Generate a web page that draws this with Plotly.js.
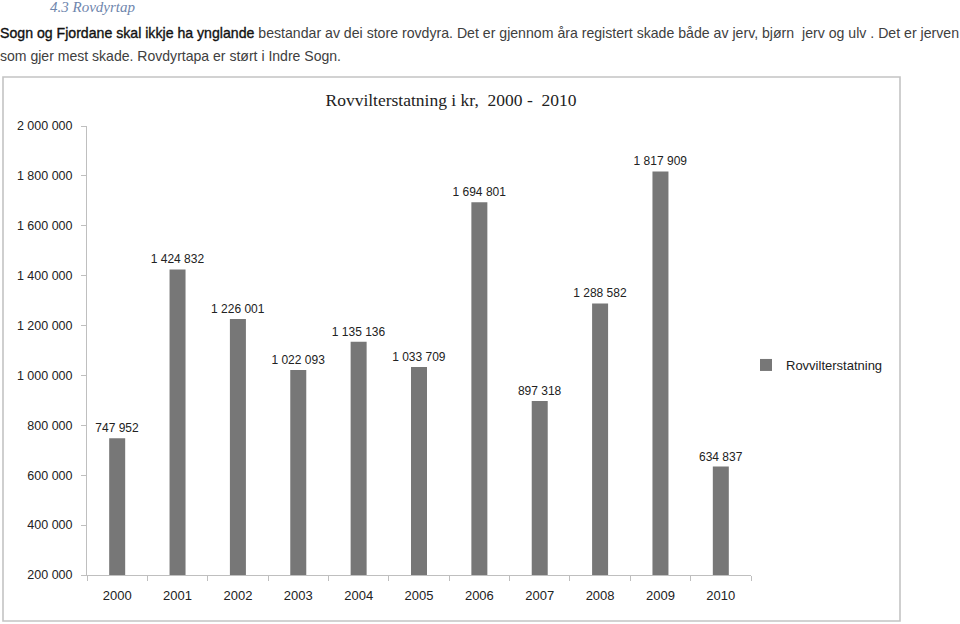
<!DOCTYPE html>
<html>
<head>
<meta charset="utf-8">
<script src="https://cdn.plot.ly/plotly-3.0.1.min.js"></script>
<style>
  html, body { margin: 0; padding: 0; background: #fff; width: 960px; height: 624px; overflow: hidden; }
  #chart { position: absolute; left: 0; top: 0; width: 960px; height: 624px; }
  .doc { position: absolute; white-space: nowrap; transform-origin: 0 0; z-index: 5; }
  #heading { left: 50px; top: -1px; line-height: 16px; font-family: "Liberation Serif", serif; font-style: italic; font-size: 15px; color: #6f86ad; }
  .para { left: 0px; font-family: "Liberation Sans", sans-serif; font-size: 14.5px; color: #404040; }
  #line1 { top: 25px; }
  #line2 { top: 48px; }
  .bold { color: #111; font-weight: normal; -webkit-text-stroke: 0.35px #111; }
</style>
</head>
<body>
<div id="chart"></div>
<div id="heading" class="doc">4.3 Rovdyrtap</div>
<div id="line1" class="doc para"><span class="bold">Sogn og Fjordane skal ikkje ha ynglande</span> bestandar av dei store rovdyra. Det er gjennom åra registert skade både av jerv, bjørn&nbsp; jerv og ulv . Det er jerven</div>
<div id="line2" class="doc para">som gjer mest skade. Rovdyrtapa er størt i Indre Sogn.</div>
<script>
// ---- data ----
const years = ["2000","2001","2002","2003","2004","2005","2006","2007","2008","2009","2010"];
const values = [747952, 1424832, 1226001, 1022093, 1135136, 1033709, 1694801, 897318, 1288582, 1817909, 634837];
const seriesName = "Rovvilterstatning";
const chartTitle = "Rovvilterstatning i kr,&nbsp; 2000 -&nbsp; 2010";
const yRange = [200000, 2000000];
const yStep = 200000;

// ---- geometry helpers (pixel -> paper) ----
const L = 87, R = 751, T = 126, B = 575;
const px2x = p => (p - L) / (R - L);
const px2y = p => (B - p) / (B - T);

const trace = {
  type: "bar",
  x: years,
  y: values,
  name: seriesName,
  marker: { color: "#777777" },
  texttemplate: "%{y:,d}",
  textposition: "outside",
  constraintext: "none",
  cliponaxis: false,
  textfont: { family: "Liberation Sans, sans-serif", size: 12, color: "#222" },
  showlegend: true,
  hoverinfo: "x+y"
};

const layout = {
  width: 960, height: 624,
  margin: { l: L, r: 960 - R, t: T, b: 624 - B, pad: 0 },
  paper_bgcolor: "#fff", plot_bgcolor: "#fff",
  separators: ". ",
  bargap: 0.735,
  showlegend: true,
  font: { family: "Liberation Sans, sans-serif", size: 13, color: "#222" },
  title: {
    text: chartTitle,
    xref: "container", yref: "container",
    x: 451 / 960, xanchor: "center",
    y: 1 - 100 / 624, yanchor: "middle",
    font: { family: "Liberation Serif, serif", size: 17.5, color: "#222" }
  },
  xaxis: {
    type: "category",
    showline: true, linecolor: "#bfbfbf", linewidth: 1,
    ticks: "outside", tickson: "boundaries", ticklen: 5, tickcolor: "#bfbfbf",
    tickfont: { size: 13, color: "#222" },
    showgrid: false, zeroline: false,
    ticklabelstandoff: 8
  },
  yaxis: {
    range: yRange, dtick: yStep, tick0: 0,
    tickformat: ",d",
    showline: true, linecolor: "#bfbfbf", linewidth: 1,
    ticks: "outside", ticklen: 5, tickcolor: "#bfbfbf",
    tickfont: { size: 12.5, color: "#222" },
    showgrid: false, zeroline: false,
    ticklabelstandoff: 6
  },
  legend: {
    x: px2x(746), xanchor: "left",
    y: px2y(365), yanchor: "middle",
    font: { size: 13, color: "#222" },
    bgcolor: "rgba(0,0,0,0)"
  },
  shapes: [{
    type: "rect", xref: "paper", yref: "paper",
    x0: px2x(3), x1: px2x(900), y0: px2y(621), y1: px2y(77),
    line: { color: "#c4c4c4", width: 1.6 }, fillcolor: "rgba(0,0,0,0)", layer: "below"
  }]
};

Plotly.newPlot("chart", [trace], layout, { displayModeBar: false, staticPlot: true });

// fit document text lines to measured widths of the original
function fit(id, target) {
  const el = document.getElementById(id);
  el.style.transform = "none";
  const w = el.getBoundingClientRect().width;
  if (w > 0) el.style.transform = "scaleX(" + (target / w) + ")";
}
(document.fonts ? document.fonts.ready : Promise.resolve()).then(() => {
  fit("line1", 959);
  fit("line2", 341);
});
</script>
</body>
</html>
